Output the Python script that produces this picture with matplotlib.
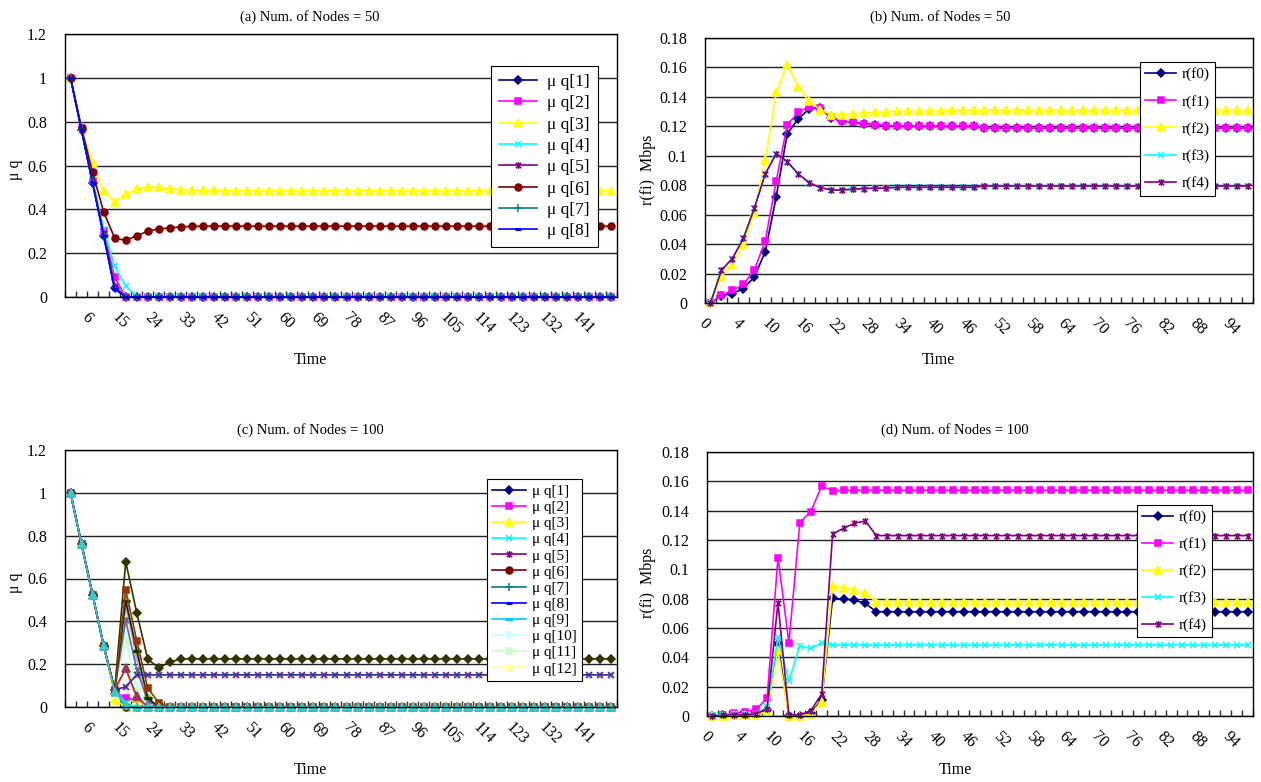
import numpy as np
import matplotlib
matplotlib.use('Agg')
import matplotlib.pyplot as plt
import matplotlib.transforms as mtrans
from matplotlib.path import Path

plt.rcParams['font.family'] = ['Liberation Serif', 'DejaVu Serif']
plt.rcParams['font.size'] = 11

# ############################################################
# Datos
a_xlabels = ['6', '15', '24', '33', '42', '51', '60', '69', '78', '87',
             '96', '105', '114', '123', '132', '141']
b_xlabels = ['0', '4', '10', '16', '22', '28', '34', '40', '46', '52',
             '58', '64', '70', '76', '82', '88', '94']
q_yticks = [0, 0.2, 0.4, 0.6, 0.8, 1, 1.2]
q_yticklabels = ['0', '0.2', '0.4', '0.6', '0.8', '1', '1.2']
r_yticks = [0, 0.02, 0.04, 0.06, 0.08, 0.1, 0.12, 0.14, 0.16, 0.18]
r_yticklabels = ['0', '0.02', '0.04', '0.06', '0.08', '0.1', '0.12',
                 '0.14', '0.16', '0.18']

# (a) Num. of Nodes = 50
a_q1 = [1, 0.76, 0.52, 0.28, 0.04] + [0.0] * 45
a_q2 = [1, 0.77, 0.53, 0.30, 0.09] + [0.0] * 45
a_q3 = [1, 0.77, 0.61, 0.482, 0.434, 0.471, 0.492, 0.503, 0.50, 0.495,
        0.49, 0.488, 0.487, 0.486] + [0.485] * 36
a_q4 = [1, 0.76, 0.53, 0.31, 0.14, 0.05, 0.005] + [0.0] * 43
a_q5 = [1, 0.76, 0.52, 0.29, 0.05] + [0.0] * 45
a_q6 = [1, 0.77, 0.569, 0.388, 0.269, 0.258, 0.28, 0.30, 0.311, 0.315,
        0.32, 0.322] + [0.323] * 38
a_q7 = [1, 0.76, 0.52, 0.28, 0.04] + [0.0] * 45
a_q8 = [1, 0.76, 0.52, 0.28, 0.035] + [0.0] * 45

# (b) Num. of Nodes = 50
b_f0 = [0, 0.005, 0.0064, 0.0098, 0.0177, 0.0348, 0.0723, 0.1148, 0.125,
        0.1318, 0.1325, 0.1258, 0.1234, 0.1227, 0.1218, 0.121, 0.1205] \
       + [0.12] * 8 + [0.119] * 25
b_f1 = [0, 0.0052, 0.0086, 0.0127, 0.0223, 0.0423, 0.083, 0.121, 0.1295,
        0.1332, 0.1325, 0.1264, 0.1234, 0.1227, 0.1218, 0.121, 0.1205] \
       + [0.12] * 8 + [0.119] * 25
b_f2 = [0, 0.018, 0.0257, 0.0398, 0.061, 0.0973, 0.143, 0.162, 0.1468,
        0.137, 0.1314, 0.128, 0.128, 0.1286, 0.129, 0.1295, 0.13] \
       + [0.1302] * 5 + [0.1312] * 28
b_f3 = [0, 0.0223, 0.0302, 0.0439, 0.0643, 0.0877, 0.1014, 0.0961, 0.0877,
        0.0818, 0.0784, 0.0768, 0.0768, 0.0773, 0.0777, 0.078, 0.078] \
       + [0.0786] * 8 + [0.0795] * 25
b_f4 = [0, 0.0223, 0.0302, 0.0439, 0.0643, 0.0877, 0.1014, 0.0961, 0.0877,
        0.0818, 0.0784, 0.0768, 0.0768, 0.0773, 0.0777, 0.078, 0.078] \
       + [0.0786] * 8 + [0.0795] * 25

# (c) Num. of Nodes = 100
c_q1 = [1, 0.76, 0.524, 0.287, 0.08] + [0.0] * 45
c_q2 = [1, 0.76, 0.524, 0.287, 0.072, 0.04, 0.033] + [0.0] * 43
c_q3 = [1, 0.76, 0.524, 0.287, 0.035] + [0.0] * 45
c_q4 = [1, 0.76, 0.524, 0.287, 0.08, 0.02] + [0.0] * 44
c_q5 = [1, 0.76, 0.524, 0.287, 0.08] + [0.0] * 45
c_q6 = [1, 0.76, 0.524, 0.287, 0.08] + [0.0] * 45
c_q7 = [1, 0.76, 0.524, 0.287, 0.08] + [0.0] * 45
c_q8 = [1, 0.76, 0.524, 0.287, 0.08] + [0.0] * 45
c_q9 = [1, 0.76, 0.524, 0.287, 0.08] + [0.0] * 45
c_q10 = [1, 0.76, 0.524, 0.287, 0.08, 0.35, 0.10] + [0.0] * 43
c_q11 = [1, 0.76, 0.524, 0.287, 0.08, 0.313, 0.072] + [0.0] * 43
c_q12 = [1, 0.76, 0.524, 0.287, 0.06, 0.18, 0.03] + [0.0] * 43
c_q14 = [1, 0.76, 0.524, 0.287, 0.079, 0.095] + [0.15] * 44
c_q15 = [1, 0.76, 0.524, 0.287, 0.08, 0.465, 0.232] + [0.0] * 43
c_q19 = [1, 0.76, 0.524, 0.287, 0.08, 0.496, 0.263, 0.04] + [0.0] * 42
c_q21 = [1, 0.76, 0.524, 0.287, 0.08, 0.18, 0.04] + [0.0] * 43
c_q23 = [1, 0.76, 0.524, 0.287, 0.08, 0.406, 0.173, 0.03] + [0.0] * 42
c_q27 = [1, 0.76, 0.524, 0.287, 0.08, 0.496, 0.263, 0.04] + [0.0] * 42
c_q28 = [1, 0.76, 0.524, 0.287, 0.08, 0.678, 0.44, 0.222, 0.183, 0.21] \
        + [0.225] * 40
c_q29 = [1, 0.76, 0.524, 0.287, 0.08, 0.546, 0.31, 0.087, 0.02] + [0.0] * 41
c_q30 = [1, 0.76, 0.524, 0.287, 0.08, 0.18, 0.05] + [0.0] * 43
c_q31 = [1, 0.76, 0.524, 0.287, 0.079, 0.095] + [0.15] * 44
c_q32 = [1, 0.76, 0.524, 0.287, 0.07, 0.01] + [0.0] * 44

# (d) Num. of Nodes = 100
d_f0 = [0, 0.0005, 0.001, 0.001, 0.0015, 0.004, 0.049, 0, 0, 0.002, 0.011,
        0.0802, 0.0798, 0.079, 0.0768] + [0.0711] * 35
d_f1 = [0, 0.0005, 0.0018, 0.003, 0.0045, 0.012, 0.108, 0.05, 0.1318,
        0.1393, 0.1568, 0.1536] + [0.154] * 38
d_f2 = [0, 0.0003, 0.0008, 0.001, 0.001, 0.003, 0.045, 0, 0, 0.0014, 0.0098,
        0.0886, 0.0875, 0.0859, 0.0836] + [0.078] * 35
d_f3 = [0.0008, 0.001, 0.0012, 0.0013, 0.0015, 0.006, 0.0536, 0.024, 0.0477,
        0.0461, 0.05] + [0.0484] * 39
d_f4 = [0, 0.0005, 0.001, 0.0007, 0.0014, 0.005, 0.0773, 0.0007, 0.0007,
        0.0036, 0.015, 0.124, 0.128, 0.1314, 0.133] + [0.123] * 35

# ############################################################
# Estilos tipo Excel
ast = Path([(-1, -1), (1, 1), (-1, 1), (1, -1), (0, -1.3), (0, 1.3)],
           [Path.MOVETO, Path.LINETO] * 3)
# (color, marker, markersize)
st = {
    1: ('#000080', 'D', 4.5), 2: ('#FF00FF', 's', 5), 3: ('#FFFF00', '^', 6),
    4: ('#00FFFF', 'x', 5), 5: ('#800080', ast, 5), 6: ('#800000', 'o', 5),
    7: ('#008080', '+', 6), 8: ('#0000FF', '_', 4), 9: ('#00CCFF', '_', 6),
    10: ('#CCFFFF', 'D', 4.5), 11: ('#CCFFCC', 's', 5), 12: ('#FFFF99', '^', 6),
    14: ('#FF99CC', ast, 5), 15: ('#CC99FF', 'o', 5), 19: ('#99CC00', 'D', 4.5),
    21: ('#FF9900', '^', 6), 23: ('#666699', ast, 5), 27: ('#003300', '_', 6),
    28: ('#333300', 'D', 4.5), 29: ('#993300', 's', 5), 30: ('#993366', '^', 6),
    31: ('#333399', 'x', 5), 32: ('#33CCCC', '^', 6),
}

W, H = 1261, 782
fig = plt.figure(figsize=(W / 100, H / 100), dpi=100)
fig.patch.set_facecolor('white')


def axes_px(l, t, r, b):
    return fig.add_axes([l / W, 1 - b / H, (r - l) / W, (b - t) / H])


def plot_serie(ax, y, k, label=None):
    c, m, ms = st[k]
    mew = 2.2 if m == '_' else 1.1
    ln, = ax.plot(np.arange(len(y)), y, color=c, lw=1.2, marker=m, ms=ms,
                  mfc=c, mec=c, mew=mew, clip_on=False, label=label)
    return ln


def base(ax, yticks, yticklabels, xpos, xlabels):
    ax.set_xlim(-0.5, 49.5)
    ax.set_ylim(yticks[0], yticks[-1])
    ax.set_yticks(yticks)
    ax.set_yticklabels(yticklabels, fontsize=11.5)
    ax.yaxis.grid(True, color='#202020', lw=1)
    ax.set_axisbelow(True)
    ax.set_xticks(np.arange(-0.5, 50, 1))
    ax.set_xticks(xpos, minor=True)
    ax.set_xticklabels(xlabels, minor=True, rotation=-45, ha='center',
                       fontsize=11.5)
    ax.tick_params(axis='x', which='major', direction='in', length=4,
                   width=1, labelbottom=False, color='#303030')
    ax.tick_params(axis='x', which='minor', length=0, pad=9)
    ax.tick_params(axis='y', length=0, pad=13)
    shift = mtrans.ScaledTranslation(-6 / 100, 0, fig.dpi_scale_trans)
    for lab in ax.get_xticklabels(minor=True):
        lab.set_transform(lab.get_transform() + shift)
    for s in ax.spines.values():
        s.set_color('black')
        s.set_linewidth(1)


def ftext(x, y, s, **kw):
    fig.text(x / W, 1 - y / H, s, ha='center', va='center', **kw)


def leyenda(ax, handles, x, y, spacing, fs=11, hl=2.2, tp=0.4, bp=0.35):
    lg = ax.legend(handles=handles, loc='upper left',
                   bbox_to_anchor=(x / W, 1 - y / H),
                   bbox_transform=fig.transFigure, borderaxespad=0,
                   fancybox=False, framealpha=1, edgecolor='black',
                   fontsize=fs, labelspacing=spacing, handlelength=hl,
                   handletextpad=tp, borderpad=bp)
    lg.get_frame().set_linewidth(0.8)
    lg.set_zorder(10)


apos = np.arange(2, 50, 3)
bpos = np.arange(0, 50, 3)

# (a)
ax_a = axes_px(65, 34, 617, 297)
base(ax_a, q_yticks, q_yticklabels, apos, a_xlabels)
ha = []
for k, y in enumerate([a_q1, a_q2, a_q3, a_q4, a_q5, a_q6, a_q7, a_q8], 1):
    ha.append(plot_serie(ax_a, y, k, 'μ q[%d]' % k))
leyenda(ax_a, ha, 491, 66, 0.3, fs=12.5, hl=2.2, tp=0.6, bp=0.45)
ftext(310, 17, '(a) Num. of Nodes = 50', fontsize=10.5)
ftext(310, 360, 'Time', fontsize=11.5)
ftext(15, 170, 'μ q', fontsize=11.5, rotation=90)

# (b)
ax_b = axes_px(705, 38, 1253, 303)
base(ax_b, r_yticks, r_yticklabels, bpos, b_xlabels)
hb = []
for k, y in enumerate([b_f0, b_f1, b_f2, b_f3, b_f4], 1):
    hb.append(plot_serie(ax_b, y, k, 'r(f%d)' % (k - 1)))
leyenda(ax_b, hb, 1140, 62, 0.87, hl=2.0)
ftext(940, 17, '(b) Num. of Nodes = 50', fontsize=10.5)
ftext(938, 360, 'Time', fontsize=11.5)
ftext(648, 170, 'r(fi)  Mbps', fontsize=11.5, rotation=90)

# (c)
ax_c = axes_px(65, 450, 617, 707)
base(ax_c, q_yticks, q_yticklabels, apos, a_xlabels)
hc = []
for k, y in enumerate([c_q1, c_q2, c_q3, c_q4, c_q5, c_q6, c_q7, c_q8,
                       c_q9, c_q10, c_q11, c_q12], 1):
    hc.append(plot_serie(ax_c, y, k, 'μ q[%d]' % k))
for k, y in [(14, c_q14), (15, c_q15), (19, c_q19), (21, c_q21),
             (23, c_q23), (27, c_q27), (28, c_q28), (29, c_q29),
             (30, c_q30), (31, c_q31), (32, c_q32)]:
    plot_serie(ax_c, y, k)
leyenda(ax_c, hc, 487, 479, 0.16)
ftext(310, 430, '(c) Num. of Nodes = 100', fontsize=10.5)
ftext(310, 770, 'Time', fontsize=11.5)
ftext(15, 583, 'μ q', fontsize=11.5, rotation=90)

# (d)
ax_d = axes_px(707, 452, 1253, 716)
base(ax_d, r_yticks, r_yticklabels, bpos, b_xlabels)
hd = []
for k, y in enumerate([d_f0, d_f1, d_f2, d_f3, d_f4], 1):
    hd.append(plot_serie(ax_d, y, k, 'r(f%d)' % (k - 1)))
leyenda(ax_d, hd, 1137, 505, 0.85, hl=2.0)
ftext(955, 430, '(d) Num. of Nodes = 100', fontsize=10.5)
ftext(955, 770, 'Time', fontsize=11.5)
ftext(648, 583, 'r(fi)  Mbps', fontsize=11.5, rotation=90)

fig.savefig('out.png', dpi=100)
